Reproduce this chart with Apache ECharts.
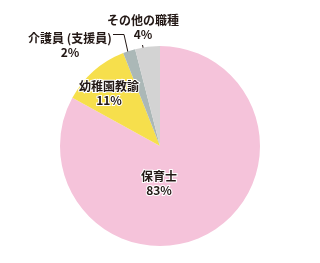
<!DOCTYPE html>
<html><head><meta charset="utf-8">
<script src="https://cdn.jsdelivr.net/npm/echarts@6/dist/echarts.min.js"></script>
<style>html,body{margin:0;padding:0;background:#fff}#c{width:320px;height:263px}</style>
</head><body><div id="c"></div>
<script>
const categories = ['保育士', '幼稚園教諭', '介護員 (支援員)', 'その他の職種'];
const values = [83, 11, 2, 4];
const colors = ['#F5C3DA', '#F6DF4C', '#ABB8B7', '#D3D3D3'];

const chart = echarts.init(document.getElementById('c'), null, {renderer: 'canvas'});
const labelPos = [
  {x: 159, y: 183},
  {x: 109, y: 93},
  {x: 70, y: 45},
  {x: 143, y: 27}
];
const linePts = [
  null, null,
  [[113, 34.5], [124, 34.5], [129.5, 59]],
  [[142.5, 45], [145.5, 59]]
];
chart.setOption({
  animation: false,
  series: [{
    type: 'pie',
    center: [160, 146],
    radius: 100,
    startAngle: 90,
    clockwise: true,
    avoidLabelOverlap: false,
    data: categories.map((n, i) => ({
      name: n, value: values[i],
      itemStyle: {color: colors[i]},
      labelLine: {show: i >= 2}
    })),
    label: {
      show: true,
      position: 'outside',
      alignTo: 'none',
      overflow: 'none',
      formatter: '{b}\n{c}%',
      fontFamily: 'Noto Sans CJK JP',
      fontWeight: 'bold',
      fontSize: 12,
      lineHeight: 14,
      color: '#231815',
      textBorderColor: '#fff',
      textBorderWidth: 2,
      align: 'center'
    },
    labelLine: {show: true, lineStyle: {color: '#231815', width: 1}},
    labelLayout: function (p) {
      const i = p.dataIndex;
      const r = {x: labelPos[i].x, y: labelPos[i].y, align: 'center', verticalAlign: 'middle', width: 120};
      if (linePts[i]) r.labelLinePoints = linePts[i];
      return r;
    }
  }]
});
</script></body></html>
